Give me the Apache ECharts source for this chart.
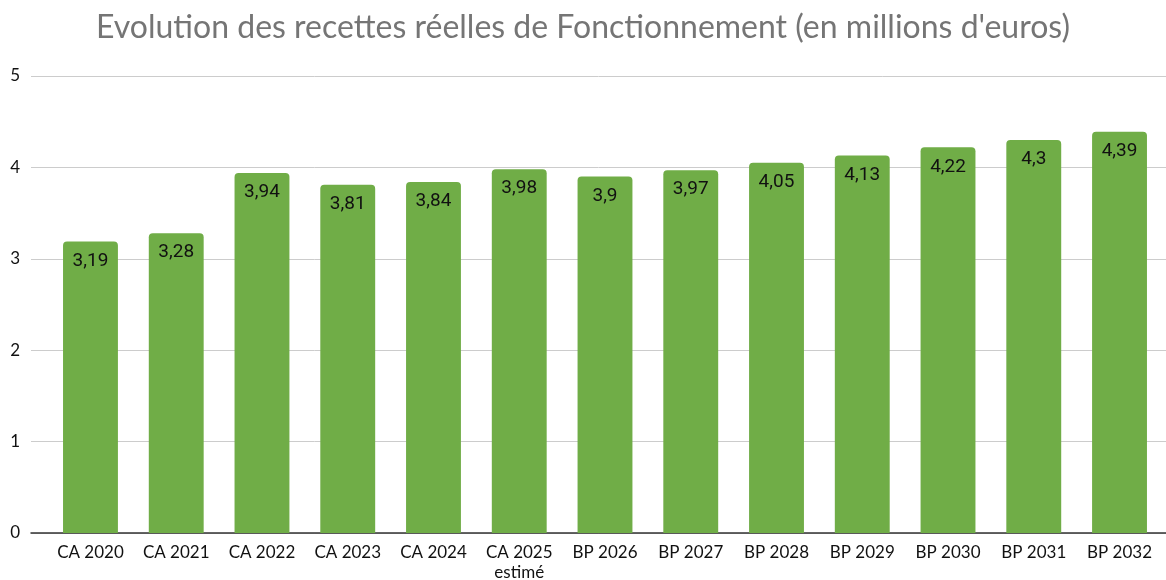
<!DOCTYPE html>
<html><head><meta charset="utf-8">
<script src="https://cdn.jsdelivr.net/npm/echarts@6/dist/echarts.min.js"></script>
<style>html,body{margin:0;padding:0;background:#fff}#c{width:1166px;height:580px}</style>
</head><body><div id="c"></div>
<script>
const categories = ['CA 2020','CA 2021','CA 2022','CA 2023','CA 2024','CA 2025\nestimé','BP 2026','BP 2027','BP 2028','BP 2029','BP 2030','BP 2031','BP 2032'];
const values = [3.19,3.28,3.94,3.81,3.84,3.98,3.9,3.97,4.05,4.13,4.22,4.3,4.39];
const yTicks = [0,1,2,3,4,5];
const title = "Evolution des recettes réelles de Fonctionnement (en millions d'euros)";

const chart = echarts.init(document.getElementById('c'));
chart.setOption({
  animation:false,
  title:{text:title,left:'center',top:7,textStyle:{fontFamily:'Lato',fontSize:32,fontWeight:'normal',color:'#757575'}},
  grid:[
    {left:31,right:0,top:76,bottom:47,outerBoundsMode:'none'},
    {left:47.6,right:3.6,top:76,bottom:47,outerBoundsMode:'none'}
  ],
  xAxis:[
    {gridIndex:0,type:'category',data:categories,
     axisLine:{show:true,lineStyle:{color:'#333',width:1.5}},axisTick:{show:false},axisLabel:{show:false},splitLine:{show:false}},
    {gridIndex:1,type:'category',data:categories,
     axisLine:{show:false},axisTick:{show:false},
     axisLabel:{interval:0,fontFamily:'Lato',fontSize:17,color:'#111',margin:10,lineHeight:20}}
  ],
  yAxis:[
    {gridIndex:0,type:'value',min:yTicks[0],max:yTicks[yTicks.length-1],interval:1,
     axisLine:{show:false},axisTick:{show:false},
     axisLabel:{fontFamily:'Lato',fontSize:17,color:'#111',margin:11},
     splitLine:{lineStyle:{color:'#cccccc',width:1}}},
    {gridIndex:1,type:'value',min:yTicks[0],max:yTicks[yTicks.length-1],interval:1,show:false,splitLine:{show:false}}
  ],
  series:[
    {type:'bar',xAxisIndex:1,yAxisIndex:1,data:values,barWidth:'64%',z:1,
     itemStyle:{color:'#70AD47',borderRadius:[4,4,0,0]},
     label:{show:true,position:'insideTop',distance:10,fontFamily:'Roboto',fontSize:19,color:'#111',
       formatter:p=>String(p.value).replace('.',',')}}
  ]
});
</script></body></html>
